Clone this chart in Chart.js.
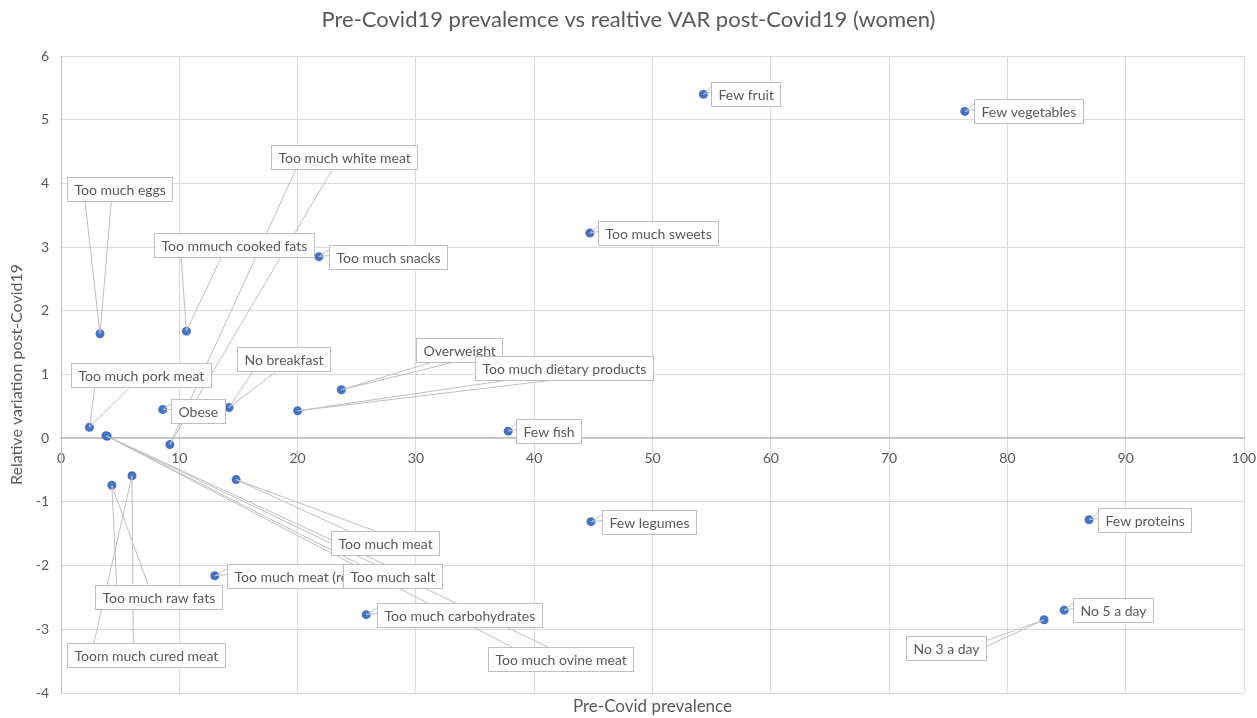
<!DOCTYPE html>
<html>
<head>
<meta charset="utf-8">
<script src="https://cdn.jsdelivr.net/npm/chart.js@4"></script>
<style>
  html, body { margin: 0; padding: 0; background: #ffffff; }
  canvas { display: block; }
</style>
</head>
<body>
<canvas id="c" width="1257" height="718"></canvas>
<script>
// ---- Data ----
const names = [
  "Few fruit", "Few vegetables", "Too much sweets", "Too much snacks",
  "Too much eggs", "Too mmuch cooked fats", "Too much white meat",
  "Overweight", "Too much dietary products", "No breakfast", "Obese",
  "Too much pork meat", "Few fish", "Too much meat", "Too much ovine meat",
  "Too much meat (red)", "Too much salt", "Toom much cured meat",
  "Too much raw fats", "Few legumes", "Few proteins",
  "Too much carbohydrates", "No 5 a day", "No 3 a day"
];
const prevalence = [
  54.3, 76.4, 44.7, 21.8,
  3.3, 10.6, 9.2,
  23.7, 20.0, 14.2, 8.6,
  2.4, 37.8, 14.8, 3.9,
  13.0, 3.8, 6.0,
  4.3, 44.8, 86.9,
  25.8, 84.8, 83.1
];
const variation = [
  5.40, 5.13, 3.22, 2.85,
  1.64, 1.68, -0.10,
  0.76, 0.43, 0.48, 0.45,
  0.17, 0.11, -0.65, 0.03,
  -2.16, 0.04, -0.59,
  -0.74, -1.31, -1.28,
  -2.77, -2.70, -2.85
];
// Callout box centres, in data units
const calloutX = [
  57.9, 81.8, 50.5, 27.6,
  4.96, 14.6, 23.9,
  33.65, 42.5, 18.8, 11.55,
  6.8, 41.2, 27.35, 42.2,
  19.9, 28.0, 7.2,
  8.2, 49.7, 91.6,
  33.65, 88.9, 74.8
];
const calloutY = [
  5.40, 5.13, 3.22, 2.85,
  3.91, 3.03, 4.41,
  1.38, 1.10, 1.24, 0.43,
  1.00, 0.11, -1.65, -3.46,
  -2.16, -2.16, -3.40,
  -2.50, -1.31, -1.28,
  -2.77, -2.70, -3.30
];
const xTicks = { min: 0, max: 100, step: 10 };
const yTicks = { min: -4, max: 6, step: 1 };

const titleText = "Pre-Covid19 prevalemce vs realtive VAR post-Covid19 (women)";
const xTitle = "Pre-Covid prevalence";
const yTitle = "Relative variation post-Covid19";

const FONT = "Lato, 'Open Sans', sans-serif";
const TEXT = "#595959";
const LINE = "#bfbfbf";
const GRID = "#d9d9d9";

const points = prevalence.map((v, i) => ({ x: v, y: variation[i] }));

const calloutPlugin = {
  id: 'callouts',
  afterDatasetsDraw(chart) {
    const { ctx } = chart;
    const xs = chart.scales.x, ys = chart.scales.y;
    ctx.save();
    ctx.font = "14px " + FONT;
    const boxes = names.map((n, i) => {
      const tw = ctx.measureText(n).width;
      const w = Math.round(tw + 14), h = 24;
      const cx = xs.getPixelForValue(calloutX[i]);
      const cy = ys.getPixelForValue(calloutY[i]);
      return { l: Math.round(cx - w / 2) + 0.5, t: Math.round(cy - h / 2) + 0.5, w, h, cx, cy };
    });
    // leader wedges
    ctx.strokeStyle = LINE;
    ctx.lineWidth = 1;
    boxes.forEach((b, i) => {
      const tx = xs.getPixelForValue(prevalence[i]);
      const ty = ys.getPixelForValue(variation[i]);
      const dx = tx - b.cx, dy = ty - b.cy;
      let p1, p2;
      if (Math.abs(dx) / b.w > Math.abs(dy) / b.h) {
        const ex = dx < 0 ? b.l : b.l + b.w;
        const f = dy <= 0 ? [2 / 12, 5 / 12] : [7 / 12, 10 / 12];
        p1 = [ex, b.t + b.h * f[0]];
        p2 = [ex, b.t + b.h * f[1]];
      } else {
        const ey = dy < 0 ? b.t : b.t + b.h;
        const f = dx <= 0 ? [2 / 12, 5 / 12] : [7 / 12, 10 / 12];
        p1 = [b.l + b.w * f[0], ey];
        p2 = [b.l + b.w * f[1], ey];
      }
      ctx.beginPath();
      ctx.moveTo(p1[0], p1[1]);
      ctx.lineTo(tx, ty);
      ctx.lineTo(p2[0], p2[1]);
      ctx.stroke();
    });
    // boxes
    boxes.forEach((b, i) => {
      ctx.fillStyle = "#ffffff";
      ctx.fillRect(b.l, b.t, b.w, b.h);
      ctx.strokeStyle = LINE;
      ctx.strokeRect(b.l, b.t, b.w, b.h);
      ctx.fillStyle = TEXT;
      ctx.textAlign = "left";
      ctx.textBaseline = "middle";
      ctx.fillText(names[i], b.l + 7, b.t + b.h / 2 + 0.5);
    });
    ctx.restore();
  },
  afterDraw(chart) {
    const { ctx, chartArea } = chart;
    ctx.save();
    ctx.fillStyle = TEXT;
    ctx.textAlign = "center";
    ctx.textBaseline = "middle";
    ctx.font = "22px " + FONT;
    ctx.fillText(titleText, chart.width / 2, 20);
    ctx.font = "17px " + FONT;
    ctx.fillText(xTitle, (chartArea.left + chartArea.right) / 2, 707);
    ctx.font = "16px " + FONT;
    ctx.translate(17, (chartArea.top + chartArea.bottom) / 2);
    ctx.rotate(-Math.PI / 2);
    ctx.fillText(yTitle, 0, 0);
    ctx.restore();
  }
};

new Chart(document.getElementById('c'), {
  type: 'scatter',
  data: {
    datasets: [{
      data: points,
      backgroundColor: '#4472C4',
      borderColor: '#4472C4',
      borderWidth: 0,
      pointRadius: 4.5,
      pointHoverRadius: 4.5
    }]
  },
  options: {
    responsive: false,
    animation: false,
    events: [],
    layout: { padding: { top: 56, bottom: 25, left: 0, right: 13 } },
    plugins: {
      legend: { display: false },
      title: { display: false },
      tooltip: { enabled: false }
    },
    scales: {
      x: {
        type: 'linear',
        position: { y: 0 },
        min: xTicks.min, max: xTicks.max,
        afterFit(scale) { scale.paddingLeft = 0; scale.paddingRight = 0; },
        ticks: {
          stepSize: xTicks.step,
          color: TEXT,
          font: { family: FONT, size: 14 },
          padding: 12,
          maxRotation: 0
        },
        grid: { color: GRID, lineWidth: 1, drawTicks: false },
        border: { color: LINE, width: 1.5 }
      },
      y: {
        type: 'linear',
        position: 'left',
        min: yTicks.min, max: yTicks.max,
        afterFit(scale) { scale.width = 61; scale.paddingTop = 0; scale.paddingBottom = 0; },
        ticks: {
          stepSize: yTicks.step,
          color: TEXT,
          font: { family: FONT, size: 14 },
          padding: 12
        },
        grid: { color: GRID, lineWidth: 1, drawTicks: false },
        border: { color: LINE, width: 1 }
      }
    }
  },
  plugins: [calloutPlugin]
});
</script>
</body>
</html>
